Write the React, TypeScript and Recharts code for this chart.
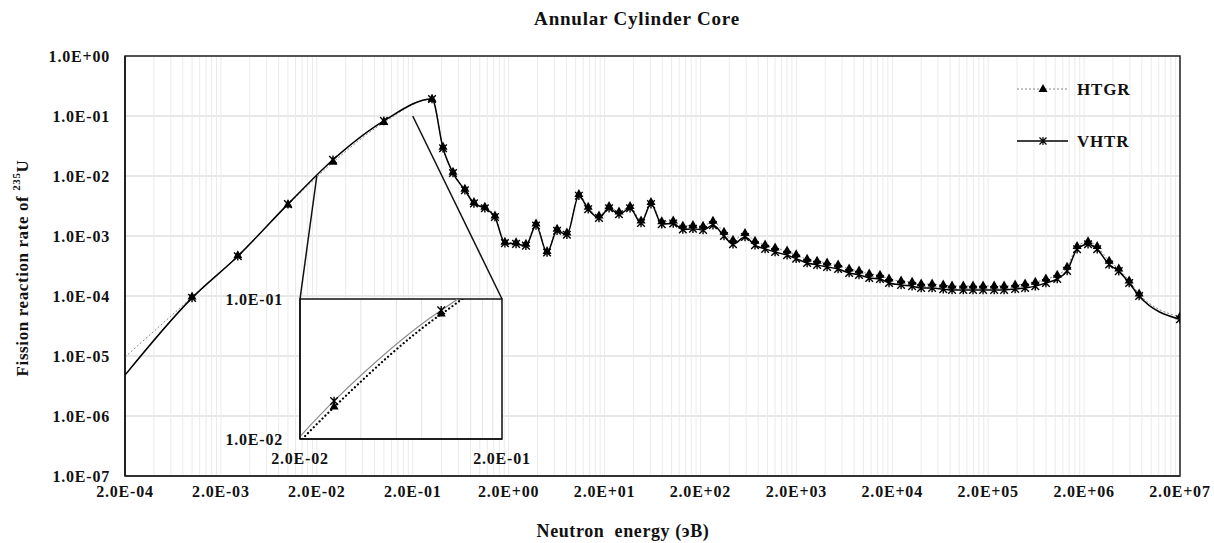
import React from 'react';
import {
  LineChart,
  Line,
  XAxis,
  YAxis,
  CartesianGrid,
  ReferenceLine,
  ReferenceArea,
  Legend,
  Label,
} from 'recharts';

const FONT = "'Liberation Serif', 'Times New Roman', serif";

// neutron energy groups (eV)
const energy = [
  2e-4, 1e-3, 3e-3, 1e-2, 2.95e-2, 0.1, 0.318, 0.414, 0.526, 0.7, 0.87, 1.13, 1.44, 1.83, 2.39, 3.03,
  3.86, 5.03, 6.4, 8.1, 10.8, 13.5, 17.5, 22.3, 28.3, 36.9, 48, 61, 79, 104, 131, 167, 213, 270, 352,
  437, 583, 741, 944, 1200, 1600, 1990, 2590, 3290, 4180, 5450, 7100, 9000, 1.15e4, 1.49e4, 1.85e4,
  2.47e4, 3.22e4, 4.0e4, 5.2e4, 6.8e4, 8.4e4, 1.1e5, 1.39e5, 1.77e5, 2.31e5, 2.93e5, 3.82e5, 4.85e5,
  6.2e5, 8.0e5, 1.05e6, 1.33e6, 1.69e6, 2.2e6, 2.74e6, 3.65e6, 4.6e6, 5.9e6, 7.5e6, 2e7,
];

const htgr = [
  9.6e-6, 9.6e-5, 4.7e-4, 3.3e-3, 1.69e-2, 7.8e-2, 0.19, 3.0e-2, 1.15e-2, 6.0e-3, 3.6e-3, 3.0e-3,
  2.15e-3, 7.9e-4, 7.7e-4, 7.3e-4, 1.58e-3, 5.5e-4, 1.3e-3, 1.12e-3, 4.9e-3, 3.0e-3, 2.15e-3, 3.1e-3,
  2.5e-3, 3.1e-3, 1.78e-3, 3.6e-3, 1.72e-3, 1.78e-3, 1.45e-3, 1.5e-3, 1.46e-3, 1.76e-3, 1.15e-3,
  8.5e-4, 1.1e-3, 8.2e-4, 7.1e-4, 6.3e-4, 5.6e-4, 4.85e-4, 4.1e-4, 3.8e-4, 3.55e-4, 3.28e-4, 2.82e-4,
  2.6e-4, 2.33e-4, 2.22e-4, 1.92e-4, 1.78e-4, 1.7e-4, 1.58e-4, 1.58e-4, 1.52e-4, 1.47e-4, 1.47e-4,
  1.47e-4, 1.47e-4, 1.47e-4, 1.47e-4, 1.52e-4, 1.58e-4, 1.7e-4, 1.92e-4, 2.22e-4, 3.0e-4, 6.7e-4,
  8.0e-4, 6.7e-4, 3.8e-4, 2.82e-4, 1.78e-4, 1.08e-4, 4.5e-5,
];

const vhtr = [
  4.8e-6, 9.3e-5, 4.6e-4, 3.4e-3, 1.87e-2, 8.3e-2, 0.192, 2.9e-2, 1.12e-2, 5.8e-3, 3.5e-3, 2.9e-3,
  2.07e-3, 7.6e-4, 7.4e-4, 6.9e-4, 1.5e-3, 5.3e-4, 1.22e-3, 1.05e-3, 4.7e-3, 2.8e-3, 2.0e-3, 2.9e-3,
  2.3e-3, 2.9e-3, 1.65e-3, 3.4e-3, 1.58e-3, 1.62e-3, 1.28e-3, 1.32e-3, 1.26e-3, 1.52e-3, 1.0e-3,
  7.3e-4, 9.6e-4, 7.0e-4, 6.1e-4, 5.4e-4, 4.8e-4, 4.2e-4, 3.55e-4, 3.3e-4, 3.05e-4, 2.82e-4, 2.42e-4,
  2.25e-4, 2.0e-4, 1.92e-4, 1.65e-4, 1.53e-4, 1.46e-4, 1.36e-4, 1.36e-4, 1.3e-4, 1.26e-4, 1.26e-4,
  1.26e-4, 1.26e-4, 1.26e-4, 1.26e-4, 1.31e-4, 1.36e-4, 1.46e-4, 1.65e-4, 1.92e-4, 2.62e-4, 6.0e-4,
  7.3e-4, 6.0e-4, 3.35e-4, 2.6e-4, 1.65e-4, 1.0e-4, 4.1e-5,
];

const xMajorTicks = [2e-4, 2e-3, 2e-2, 2e-1, 2e0, 2e1, 2e2, 2e3, 2e4, 2e5, 2e6, 2e7];
const xMajorLabels = [
  '2.0E-04', '2.0E-03', '2.0E-02', '2.0E-01', '2.0E+00', '2.0E+01',
  '2.0E+02', '2.0E+03', '2.0E+04', '2.0E+05', '2.0E+06', '2.0E+07',
];
const yTicks = [1e-7, 1e-6, 1e-5, 1e-4, 1e-3, 1e-2, 1e-1, 1];
const yLabels = ['1.0E-07', '1.0E-06', '1.0E-05', '1.0E-04', '1.0E-03', '1.0E-02', '1.0E-01', '1.0E+00'];

const insetXTicks = [2e-2, 2e-1];
const insetXLabels = ['2.0E-02', '2.0E-01'];
const insetYTicks = [1e-2, 1e-1];
const insetYLabels = ['1.0E-02', '1.0E-01'];

const rows = energy.map((e, i) => ({ e, htgr: htgr[i], vhtr: vhtr[i] }));

// minor gridlines: base * 1..9 within each decade
const withMinors = (majors: number[]) => {
  const out: number[] = [];
  majors.forEach((m, i) => {
    if (i === majors.length - 1) {
      out.push(m);
      return;
    }
    for (let k = 1; k <= 9; k++) out.push(m * k);
  });
  return out;
};
const xAllTicks = withMinors(xMajorTicks);
const insetAllTicks = withMinors(insetXTicks);

const labelFor = (ticks: number[], labels: string[]) => (v: number) => {
  const i = ticks.findIndex((t) => Math.abs(Math.log10(t) - Math.log10(v)) < 1e-6);
  return i >= 0 ? labels[i] : '';
};

const tickStyle = { fontFamily: FONT, fontWeight: 700, fontSize: 16, fill: '#111', letterSpacing: 0.8 };

const Triangle = (props: any) => {
  const { cx, cy, index } = props;
  if (index === 0 || cx == null || cy == null) return <g key={`t-${index}`} />;
  return <path key={`t-${index}`} d={`M${cx},${cy - 5.5}L${cx + 4.5},${cy + 2.5}L${cx - 4.5},${cy + 2.5}Z`} fill="#000" />;
};

const Star = (props: any) => {
  const { cx, cy, index } = props;
  if (index === 0 || cx == null || cy == null) return <g key={`s-${index}`} />;
  const r = 3.8;
  return (
    <path
      key={`s-${index}`}
      d={`M${cx - r},${cy - r}L${cx + r},${cy + r}M${cx + r},${cy - r}L${cx - r},${cy + r}M${cx},${cy - r - 0.5}L${cx},${cy + r + 0.5}`}
      stroke="#000"
      strokeWidth={1.4}
      fill="none"
    />
  );
};

const YTitle = () => (
  <text
    x={22}
    y={268}
    transform="rotate(-90 22 268)"
    textAnchor="middle"
    dominantBaseline="central"
    fontFamily={FONT}
    fontWeight={700}
    fontSize={17}
    fill="#111"
    letterSpacing={0.6}
  >
    Fission reaction rate of <tspan baselineShift="super" fontSize={11}>235</tspan>
    <tspan>U</tspan>
  </text>
);

const renderLegend = () => (
  <svg width={160} height={80}>
    <line x1={7} y1={14} x2={58} y2={14} stroke="#888" strokeWidth={1} strokeDasharray="2 2" />
    <path d="M33,9L37.5,17L28.5,17Z" fill="#000" />
    <text x={67} y={14} dominantBaseline="central" fontFamily={FONT} fontWeight={700} fontSize={17} fill="#111" letterSpacing={0.8}>
      HTGR
    </text>
    <line x1={7} y1={66} x2={58} y2={66} stroke="#000" strokeWidth={1.5} />
    <path d="M29.5,62.5L36.5,69.5M36.5,62.5L29.5,69.5M33,62L33,70" stroke="#000" strokeWidth={1.2} fill="none" />
    <text x={67} y={66} dominantBaseline="central" fontFamily={FONT} fontWeight={700} fontSize={17} fill="#111" letterSpacing={0.8}>
      VHTR
    </text>
  </svg>
);

const App = () => {
  return (
    <div style={{ position: 'absolute', left: 0, top: 0, width: 1214, height: 543, background: '#fff' }}>
      <div
        style={{
          position: 'absolute',
          left: 437,
          width: 400,
          top: 8,
          textAlign: 'center',
          fontFamily: FONT,
          fontWeight: 700,
          fontSize: 19,
          letterSpacing: 0.8,
          color: '#111',
        }}
      >
        Annular Cylinder Core
      </div>

      <LineChart width={1214} height={543} data={rows} margin={{ top: 56, right: 34, left: 0, bottom: 0 }}>
        <CartesianGrid vertical={false} stroke="#d2d2d2" strokeWidth={1.2} />
        <CartesianGrid horizontal={false} stroke="#ebebeb" strokeWidth={1} />
        <XAxis
          dataKey="e"
          type="number"
          scale="log"
          domain={[2e-4, 2e7]}
          allowDataOverflow
          ticks={xAllTicks}
          interval={0}
          tickFormatter={labelFor(xMajorTicks, xMajorLabels)}
          tick={tickStyle}
          tickLine={false}
          tickSize={0}
          tickMargin={10}
          height={67}
          axisLine={{ stroke: '#333', strokeWidth: 2 }}
        />
        <YAxis
          type="number"
          scale="log"
          domain={[1e-7, 1]}
          allowDataOverflow
          ticks={yTicks}
          interval={0}
          tickFormatter={labelFor(yTicks, yLabels)}
          tick={tickStyle}
          tickLine={false}
          tickSize={0}
          tickMargin={15}
          width={125}
          axisLine={{ stroke: '#111', strokeWidth: 1.5 }}
        >
          <Label content={() => <YTitle />} />
        </YAxis>
        <ReferenceArea x1={2e-4} x2={2e7} y1={1e-7} y2={1} fill="none" stroke="#222" strokeWidth={1.5} />
        <ReferenceLine
          segment={[
            { x: 0.02, y: 0.01 },
            { x: 0.01336, y: 8.9e-5 },
          ]}
          stroke="#111"
          strokeWidth={1.5}
        />
        <ReferenceLine
          segment={[
            { x: 0.2, y: 0.1 },
            { x: 1.706, y: 8.9e-5 },
          ]}
          stroke="#111"
          strokeWidth={1.5}
        />
        <Line
          type="monotone"
          dataKey="htgr"
          name="HTGR"
          stroke="#888"
          strokeWidth={1}
          strokeDasharray="2 2"
          dot={Triangle}
          activeDot={false}
          isAnimationActive={false}
        />
        <Line
          type="monotone"
          dataKey="vhtr"
          name="VHTR"
          stroke="#000"
          strokeWidth={1.5}
          dot={Star}
          activeDot={false}
          isAnimationActive={false}
        />
        <Legend
          layout="vertical"
          align="center"
          verticalAlign="middle"
          content={renderLegend}
          wrapperStyle={{ left: 1010, top: 75, width: 160, height: 80 }}
        />
      </LineChart>

      <div style={{ position: 'absolute', left: 200, top: 279 }}>
        <LineChart width={360} height={205} data={rows} margin={{ top: 20, right: 58, left: 0, bottom: 0 }}>
          <CartesianGrid horizontal={false} stroke="#e4e4e4" fill="#fff" />
          <XAxis
            dataKey="e"
            type="number"
            scale="log"
            domain={[0.02, 0.2]}
            allowDataOverflow
            ticks={insetAllTicks}
            interval={0}
            tickFormatter={labelFor(insetXTicks, insetXLabels)}
            tick={tickStyle}
            tickLine={false}
            tickSize={0}
            tickMargin={14}
            height={45}
            axisLine={{ stroke: '#111', strokeWidth: 1.5 }}
          />
          <YAxis
            type="number"
            scale="log"
            domain={[0.01, 0.1]}
            allowDataOverflow
            ticks={insetYTicks}
            interval={0}
            tickFormatter={labelFor(insetYTicks, insetYLabels)}
            tick={tickStyle}
            tickLine={false}
            tickSize={0}
            tickMargin={17}
            width={100}
            axisLine={{ stroke: '#111', strokeWidth: 1.5 }}
          />
          <Line
            type="monotone"
            dataKey="vhtr"
            stroke="#8c8c8c"
            strokeWidth={1.2}
            dot={Star}
            activeDot={false}
            isAnimationActive={false}
          />
          <Line
            type="monotone"
            dataKey="htgr"
            stroke="#000"
            strokeWidth={2.2}
            strokeDasharray="0.1 4"
            strokeLinecap="round"
            dot={Triangle}
            activeDot={false}
            isAnimationActive={false}
          />
          <ReferenceArea x1={0.02} x2={0.2} y1={0.01} y2={0.1} fill="none" stroke="#111" strokeWidth={1.5} />
        </LineChart>
      </div>

      <div
        style={{
          position: 'absolute',
          left: 423,
          width: 400,
          top: 521,
          textAlign: 'center',
          fontFamily: FONT,
          fontWeight: 700,
          fontSize: 18,
          letterSpacing: 0.6,
          color: '#111',
          whiteSpace: 'pre',
        }}
      >
        {'Neutron  energy (эВ)'}
      </div>
    </div>
  );
};

export default App;
